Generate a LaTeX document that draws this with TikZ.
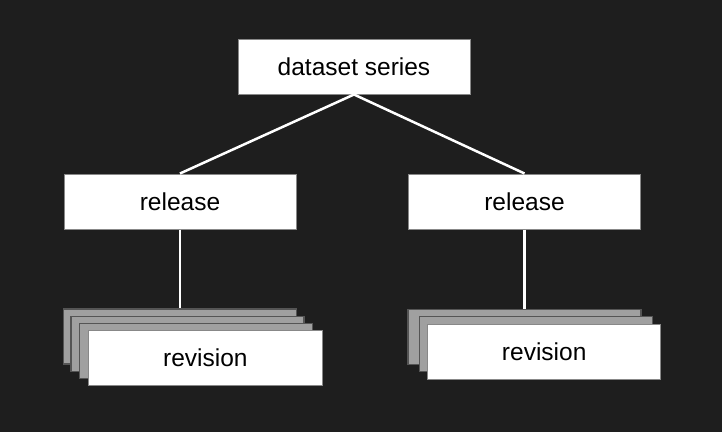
\documentclass[tikz,border=0pt]{standalone}
\usepackage{fontspec}
\setmainfont{Liberation Sans}
\definecolor{bg}{HTML}{1E1E1E}
\definecolor{stackgray}{HTML}{A0A0A0}
\definecolor{edgegray}{HTML}{555555}
\definecolor{boxedge}{HTML}{888888}
\begin{document}
\begin{tikzpicture}[x=1pt,y=-1pt,
  box/.style={draw=boxedge,line width=1pt,fill=white,minimum width=232pt,minimum height=55pt,inner sep=0pt,
    font=\fontsize{24.5}{28}\selectfont,text=black},
  backbox/.style={draw=edgegray,line width=1.2pt,fill=stackgray,minimum width=233pt,minimum height=55pt,inner sep=0pt},
  link/.style={draw=white,line width=2.5pt}]
\fill[bg] (0,0) rectangle (722,432);
\useasboundingbox (0,0) rectangle (722,432);
\node[box] (top) at (354,66.5) {dataset series};
\node[box] (relL) at (180,201.5) {release};
\node[box] (relR) at (524.5,201.5) {release};
% left stack
\node[backbox] (L1) at (180,336.5) {};
\node[backbox] (L2) at (187.5,343.7) {};
\node[backbox] (L3) at (196,351.3) {};
\node[box,minimum width=234pt] (L4) at (205.3,358) {revision};
% right stack
\node[backbox] (R1) at (524.5,336.6) {};
\node[backbox] (R2) at (535.8,343.7) {};
\node[box,minimum width=233pt] (R3) at (544.2,351.6) {revision};
\draw[link] (top.south) -- (relL.north);
\draw[link] (top.south) -- (relR.north);
\draw[link] (relL.south) -- (L1.north);
\draw[link] (relR.south) -- (R1.north);
\end{tikzpicture}
\end{document}
